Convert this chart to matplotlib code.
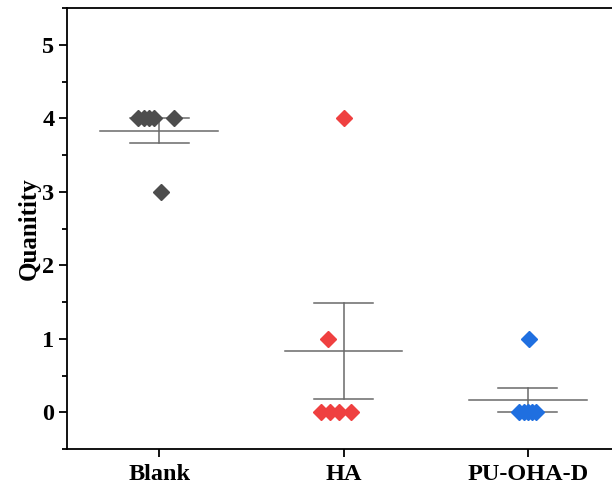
import matplotlib
matplotlib.use("Agg")
import matplotlib.pyplot as plt
import numpy as np
from matplotlib.ticker import MultipleLocator

plt.rcParams['font.family'] = ['Liberation Serif', 'DejaVu Serif']
plt.rcParams['font.weight'] = 'bold'

categories = ["Blank", "HA", "PU-OHA-D"]
blank_vals = [4, 4, 4, 4, 4, 3]
ha_vals = [4, 1, 0, 0, 0, 0]
pu_vals = [1, 0, 0, 0, 0, 0]
blank_jitter = [0.082, -0.114, -0.082, -0.054, -0.027, 0.011]
ha_jitter = [0.0, -0.082, -0.12, -0.071, -0.022, 0.038]
pu_jitter = [0.005, -0.049, -0.022, 0.0, 0.022, 0.043]
colors = ["#4d4d4d", "#ef4040", "#1f6fe0"]

groups = [blank_vals, ha_vals, pu_vals]
jitters = [blank_jitter, ha_jitter, pu_jitter]

fig = plt.figure(figsize=(6.12, 4.96), dpi=100)
ax = fig.add_axes([67/612, 1-449/496, (620-67)/612, (449-8)/496])

for i, (vals, jit, c) in enumerate(zip(groups, jitters, colors)):
    x0 = i + 1
    v = np.array(vals, dtype=float)
    m = v.mean()
    se = v.std(ddof=1) / np.sqrt(len(v))
    ax.plot([x0 - 0.32, x0 + 0.32], [m, m], color="#6a6a6a", lw=1.1, zorder=2)
    ax.plot([x0, x0], [m - se, m + se], color="#6a6a6a", lw=1.1, zorder=2)
    for yy in (m - se, m + se):
        ax.plot([x0 - 0.16, x0 + 0.16], [yy, yy], color="#6a6a6a", lw=1.1, zorder=2)
    ax.plot(x0 + np.array(jit), v, linestyle="none", marker="D", ms=8.3,
            color=c, markeredgecolor=c, zorder=3)

ax.set_xlim(0.5, 3.5)
ax.set_ylim(-0.5, 5.5)
ax.set_xticks([1, 2, 3])
ax.set_xticklabels(categories, fontsize=17.5, fontweight="bold")
ax.yaxis.set_major_locator(MultipleLocator(1))
ax.yaxis.set_minor_locator(MultipleLocator(0.5))
for lab in ax.get_yticklabels():
    lab.set_fontsize(17.5)
    lab.set_fontweight("bold")
ax.tick_params(axis="both", which="major", direction="out", length=6, width=1.3)
ax.tick_params(axis="y", which="minor", direction="out", length=3.5, width=1.3)
ax.tick_params(axis="x", pad=5)
ax.tick_params(axis="y", pad=3)
ax.set_ylabel("Quanitity", fontsize=18, fontweight="bold", labelpad=1)
for s in ax.spines.values():
    s.set_linewidth(1.3)

fig.savefig("out.png", dpi=100)
